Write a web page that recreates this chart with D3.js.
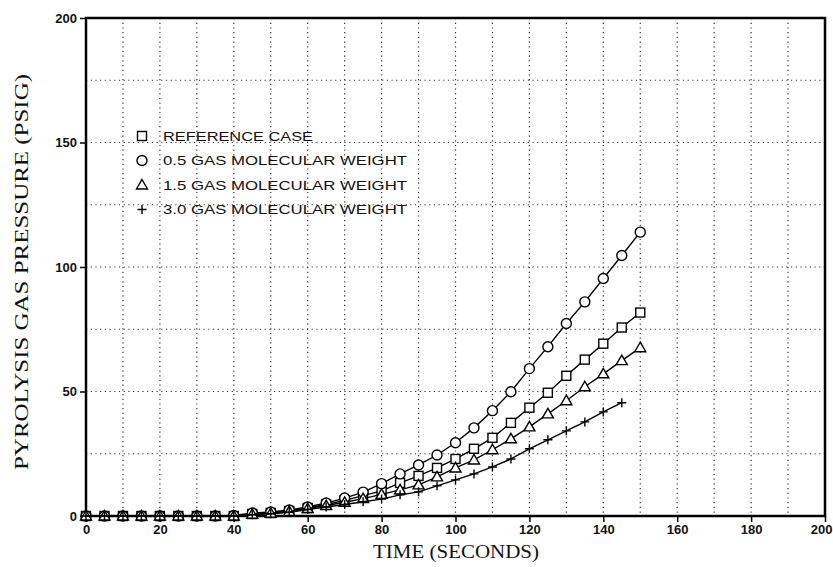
<!DOCTYPE html>
<html>
<head>
<meta charset="utf-8">
<script src="https://cdn.jsdelivr.net/npm/d3@7"></script>
<style>
  body { margin: 0; background: #fff; }
  .tick-label { font-family: "Liberation Sans", Arial, sans-serif; font-weight: bold; font-size: 13px; fill: #111; }
  .axis-title { font-family: "Liberation Serif", "Times New Roman", serif; font-size: 18px; fill: #111; }
  .legend-text { font-family: "Liberation Sans", Arial, sans-serif; font-size: 13px; fill: #111; }
</style>
</head>
<body>
<div id="chart"></div>
<script>
// time in seconds, every 5 s
var times = [0,5,10,15,20,25,30,35,40,45,50,55,60,65,70,75,80,85,90,95,100,105,110,115,120,125,130,135,140,145,150];

// pyrolysis gas pressure (psig)
var referenceCase = [0,0,0,0,0,0,0,0,0,0.8,1.2,2.0,3.2,4.6,6.3,8.2,10.1,13.3,16.1,19.3,22.9,27.0,31.4,37.4,43.5,49.5,56.3,62.8,69.2,75.7,81.7];
var halfWeight    = [0,0,0,0,0,0,0,0,0.2,1.2,1.6,2.4,3.6,5.2,7.2,9.6,13.0,16.9,20.5,24.5,29.4,35.4,42.3,49.9,59.2,68.0,77.3,86.0,95.4,104.6,114.0];
var oneHalfWeight = [0,0,0,0,0,0,0,0,0,0.7,1.1,1.8,3.0,4.2,5.5,7.0,8.7,10.5,12.5,15.7,19.3,22.5,26.6,31.0,35.8,41.0,46.3,51.9,57.1,62.4,67.6];
var tripleWeight  = [0,0,0,0,0,0,0,0,0,0.5,0.9,1.5,2.6,3.6,4.6,5.7,6.8,8.5,9.7,12.1,14.5,16.9,19.7,22.9,27.0,30.6,34.2,37.8,41.8,45.5];

var xTicks = [0,20,40,60,80,100,120,140,160,180,200];
var yTicks = [0,50,100,150,200];
var xGrid = [10,20,30,40,50,60,70,80,90,100,110,120,130,140,150,160,170,180,190];
var yGrid = [25,50,75,100,125,150,175];

var legendNames = ["REFERENCE CASE", "0.5 GAS MOLECULAR WEIGHT", "1.5 GAS MOLECULAR WEIGHT", "3.0 GAS MOLECULAR WEIGHT"];
var legendSymbols = ["square", "circle", "triangle", "plus"];

var seriesList = [
    { name: legendNames[0], symbol: "square", values: referenceCase },
    { name: legendNames[1], symbol: "circle", values: halfWeight },
    { name: legendNames[2], symbol: "triangle", values: oneHalfWeight },
    { name: legendNames[3], symbol: "plus", values: tripleWeight }
];

var width = 833, height = 567;
var svg = d3.select("#chart")
            .append("svg")
                .attr("width", width)
                .attr("height", height);

var x = d3.scaleLinear().domain([0, 200]).range([86, 825]);
var y = d3.scaleLinear().domain([0, 200]).range([516, 18]);

//GRID//
svg.append("g").selectAll("line")
    .data(xGrid)
    .enter()
    .append("line")
        .attr("x1", d => x(d)).attr("x2", d => x(d))
        .attr("y1", y(200)).attr("y2", y(0))
        .attr("stroke", "#333")
        .attr("stroke-width", 1.2)
        .attr("stroke-dasharray", "1.2,3.5");
svg.append("g").selectAll("line")
    .data(yGrid)
    .enter()
    .append("line")
        .attr("x1", x(0)).attr("x2", x(200))
        .attr("y1", d => y(d)).attr("y2", d => y(d))
        .attr("stroke", "#333")
        .attr("stroke-width", 1.2)
        .attr("stroke-dasharray", "1.2,3.5");

//FRAME//
svg.append("rect")
    .attr("x", x(0)).attr("y", y(200))
    .attr("width", x(200) - x(0)).attr("height", y(0) - y(200))
    .attr("fill", "none")
    .attr("stroke", "#000")
    .attr("stroke-width", 2.5);

//AXES//
var xAxis = svg.append("g")
    .attr("transform", "translate(0," + y(0) + ")")
    .call(d3.axisBottom(x).tickValues(xTicks).tickSize(6).tickPadding(3));
var yAxis = svg.append("g")
    .attr("transform", "translate(" + x(0) + ",0)")
    .call(d3.axisLeft(y).tickValues(yTicks).tickSize(6).tickPadding(3));
[xAxis, yAxis].forEach(function(a) {
    a.select(".domain").remove();
    a.selectAll(".tick line").attr("stroke", "#000").attr("stroke-width", 1.5);
    a.selectAll(".tick text").attr("class", "tick-label").attr("font-size", null).attr("font-family", null);
});
// last x label sits flush against the right edge
xAxis.selectAll(".tick text").filter(d => d === 200)
    .attr("text-anchor", "end")
    .attr("dx", 7);

//AXIS TITLES//
svg.append("text")
    .attr("class", "axis-title")
    .attr("x", 456)
    .attr("y", 558)
    .attr("text-anchor", "middle")
    .attr("textLength", 166)
    .attr("lengthAdjust", "spacingAndGlyphs")
    .text("TIME (SECONDS)");
svg.append("text")
    .attr("class", "axis-title")
    .attr("transform", "translate(28,272) rotate(-90)")
    .attr("text-anchor", "middle")
    .attr("textLength", 396)
    .attr("lengthAdjust", "spacingAndGlyphs")
    .text("PYROLYSIS GAS PRESSURE (PSIG)");

//SYMBOLS//
function drawSymbol(g, kind, cx, cy) {
    if (kind === "square") {
        g.append("rect").attr("x", cx - 4.5).attr("y", cy - 4.5).attr("width", 9).attr("height", 9)
            .attr("fill", "#fff").attr("stroke", "#000").attr("stroke-width", 1.4);
    } else if (kind === "circle") {
        g.append("circle").attr("cx", cx).attr("cy", cy).attr("r", 5)
            .attr("fill", "#fff").attr("stroke", "#000").attr("stroke-width", 1.4);
    } else if (kind === "triangle") {
        g.append("path").attr("d", "M" + cx + "," + (cy - 5.5) + "L" + (cx + 5.5) + "," + (cy + 4) + "L" + (cx - 5.5) + "," + (cy + 4) + "Z")
            .attr("fill", "#fff").attr("stroke", "#000").attr("stroke-width", 1.4);
    } else {
        g.append("path").attr("d", "M" + (cx - 4.5) + "," + cy + "H" + (cx + 4.5) + "M" + cx + "," + (cy - 4.5) + "V" + (cy + 4.5))
            .attr("fill", "none").attr("stroke", "#000").attr("stroke-width", 1.4);
    }
}

//CURVES//
var line = d3.line()
    .x(function(d) { return x(d.t) })
    .y(function(d) { return y(d.v) });

seriesList.forEach(function(s) {
    var pts = s.values.map(function(v, i) { return { t: times[i], v: v }; });
    var g = svg.append("g");
    g.append("path")
        .datum(pts)
        .attr("d", line)
        .attr("fill", "none")
        .attr("stroke", "#000")
        .attr("stroke-width", 1.4);
    pts.forEach(function(p) { drawSymbol(g, s.symbol, x(p.t), y(p.v)); });
});

//LEGEND//
var legend = svg.append("g").attr("id", "legend");
legendNames.forEach(function(name, i) {
    var ly = 136 + i * 24.5;
    drawSymbol(legend, legendSymbols[i], 142, ly);
    legend.append("text")
        .attr("class", "legend-text")
        .attr("x", 163)
        .attr("y", ly)
        .attr("dy", "0.36em")
        .attr("textLength", i === 0 ? 150 : 244)
        .attr("lengthAdjust", "spacingAndGlyphs")
        .text(name);
});
</script>
</body>
</html>
